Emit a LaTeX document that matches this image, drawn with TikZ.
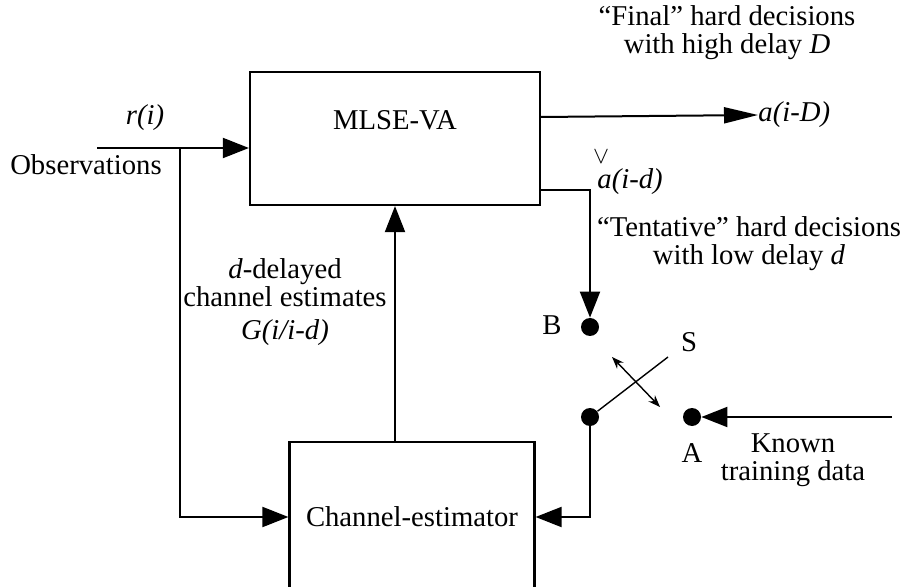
\documentclass[tikz,border=0pt]{standalone}
\usepackage{fontspec}
\setmainfont{Liberation Serif}
\usetikzlibrary{arrows.meta,positioning}

\begin{document}
\begin{tikzpicture}[x=0.5pt, y=-0.5pt, font=\fontsize{14.35}{14}\selectfont,
    block/.style = {draw, line width=1.1pt, inner sep=0pt},
    dot/.style = {circle, fill, inner sep=0pt, minimum size=9pt},
    wire/.style = {line width=1pt},
    thinwire/.style = {line width=0.7pt},
    bigtip/.style = {-{Triangle[length=13pt, width=10pt]}},
    longtip/.style = {-{Triangle[length=17pt, width=8pt]}},
    txt/.style = {align=center, inner sep=0pt}
    ]
    \clip (0,0) rectangle (909,587);

    % blocks
    \node[block, minimum width=145pt, minimum height=66.5pt] (mlse) at (395,138.5) {};
    \node[txt] (mlsetxt) at (395,120) {MLSE-VA};
    \node[block, minimum width=122.5pt, minimum height=75pt] (est) at (412,517) {Channel-estimator};

    % switch contacts
    \node[dot] (B) at (590,327) {};
    \node[dot] (P) at (590,417) {};
    \node[dot] (A) at (692,417) {};

    \coordinate (obs) at (97,148);
    \coordinate (tap) at (180,148);
    \coordinate (up) at (395,442);
    \coordinate (train) at (892,417);
    \coordinate (blade) at (668,357);
    \coordinate (sw1) at (612,357);
    \coordinate (sw2) at (660,407);

    % labels
    \node[txt] (final) at (727,33) {“Final” hard decisions\\with high delay \textit{D}};
    \node[txt, anchor=west] (aD) at (758,115) {\itshape a(i-D)};
    \node[txt, anchor=west] (ad) at (597,182) {\itshape a(i-d)};
    \node[txt] (adhat) at (601,157) {\fontsize{12}{12}\selectfont$\vee$};
    \node[txt] (tent) at (749,244) {“Tentative” hard decisions\\with low delay \textit{d}};
    \node[txt] (known) at (793,460) {Known\\training data};
    \node[txt] (dly) at (285,283) {\textit{d}-delayed\\channel estimates};
    \node[txt] (G) at (285,333) {\itshape G(i/i-d)};
    \node[txt] (ri) at (145,118) {\itshape r(i)};
    \node[txt] (obsl) at (86,165) {Observations};
    \node[txt] (Blab) at (552,325) {B};
    \node[txt] (Slab) at (689,342) {S};
    \node[txt] (Alab) at (692,453) {A};

    % connectors
    \draw[wire, bigtip] (obs) -- (obs -| mlse.west);
    \draw[wire, bigtip] (tap) |- (est.west);
    \draw[wire, longtip] (mlse.east |- 0,117) -- (aD.west);
    \draw[wire, bigtip] (mlse.east |- 0,190) -| (B.north);
    \draw[wire, bigtip] (up) -- (up |- mlse.south);
    \draw[wire, bigtip] (P) |- (est.east);
    \draw[wire, bigtip] (train) -- (A.east);
    \draw[thinwire] (P) -- (blade);
    \draw[thinwire, {Stealth[length=6pt]}-{Stealth[length=6pt]}] (sw1) -- (sw2);

\end{tikzpicture}
\end{document}
